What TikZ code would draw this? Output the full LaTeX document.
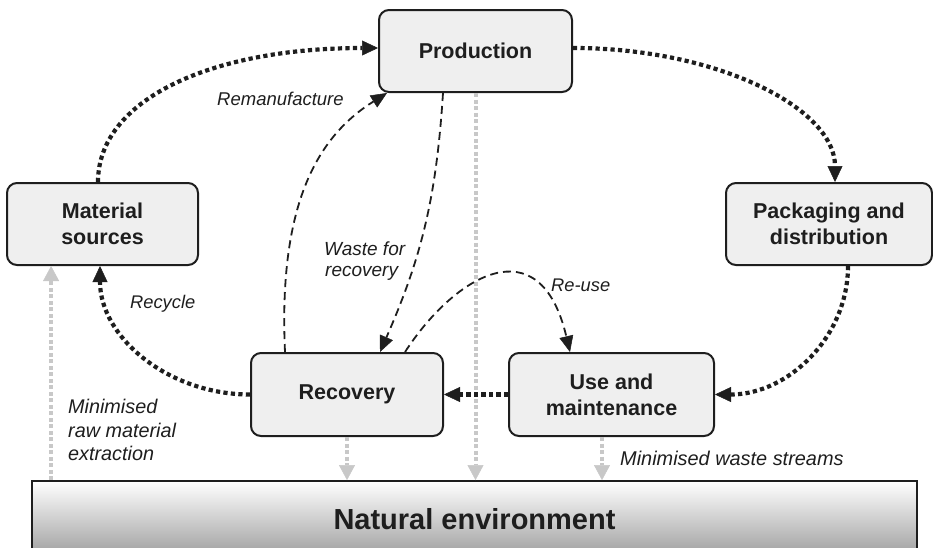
\documentclass[tikz,border=0pt]{standalone}
\usepackage{fontspec}
\setmainfont{Liberation Sans}
\usetikzlibrary{arrows.meta,calc}
\definecolor{boxfill}{HTML}{EFEFEF}
\definecolor{ink}{HTML}{1E1E1E}
\definecolor{mist}{HTML}{C8C8C8}
\begin{document}
\begin{tikzpicture}[x=1pt,y=-1pt,
  stagebox/.style={draw=ink, line width=2pt, fill=boxfill, rounded corners=10pt,
    align=center, inner sep=0pt, text=ink, font=\bfseries\fontsize{21.5}{26}\selectfont},
  dotflow/.style={draw=ink, line width=4.2pt, dash pattern=on 4.2pt off 3.3pt,
    -{Triangle[length=16pt,width=15pt,line width=0.5pt]}},
  dashflow/.style={draw=ink, line width=1.8pt, dash pattern=on 8pt off 5pt,
    -{Triangle[length=16pt,width=14pt,line width=0.5pt]}},
  grayflow/.style={draw=mist, line width=4pt, dash pattern=on 4pt off 2.5pt,
    -{Triangle[length=15pt,width=16pt,line width=0.5pt]}},
  flowlabel/.style={inner sep=0pt, text=ink, anchor=base west},
]
\useasboundingbox (0,0) rectangle (933,547);
\clip (0,0) rectangle (933,547);

% ground: the natural environment
\node[draw=ink, line width=1.8pt, top color=white, bottom color=black!38,
      minimum width=885pt, minimum height=76pt, inner sep=0pt, text=ink,
      font=\bfseries\fontsize{29}{34}\selectfont] (env) at (474.5,519) {Natural environment};

% life-cycle stages
\node[stagebox, minimum width=193pt, minimum height=82pt] (prod) at (475.5,51) {Production};
\node[stagebox, minimum width=191pt, minimum height=82pt] (mat) at (102.5,224) {Material\\sources};
\node[stagebox, minimum width=206pt, minimum height=82pt] (pack) at (829,224) {Packaging and\\distribution};
\node[stagebox, minimum width=192pt, minimum height=83pt] (rec) at (347,394.5) {Recovery};
\node[stagebox, minimum width=205pt, minimum height=83pt] (use) at (611.5,394.5) {Use and\\maintenance};

% exchanges with the environment
\coordinate (rawfoot) at ([xshift=20pt]env.north west);
\coordinate (recfoot) at (rec.south);
\coordinate (prodfoot) at (prod.south);
\coordinate (usefoot) at ([xshift=-9.5pt]use.south);
\draw[grayflow] (rawfoot) -- (rawfoot |- mat.south);
\draw[grayflow] (recfoot) -- (recfoot |- env.north);
\draw[grayflow] (prodfoot) -- (prodfoot |- env.north);
\draw[grayflow] (usefoot) -- (usefoot |- env.north);

% recovery loops
\draw[dashflow] ([xshift=-62pt]rec.north) .. controls (278,200) and (320,135) .. ([xshift=9pt]prod.south west);
\draw[dashflow] ([xshift=-32.5pt]prod.south) to[bend left=10] ([xshift=33pt]rec.north);
\draw[dashflow] ([xshift=58pt]rec.north) .. controls (455,275) and (540,225) .. ([xshift=-41.5pt]use.north);

% main cycle
\draw[dotflow] ([xshift=-4.5pt]mat.north) .. controls (98,100) and (210,48) .. ([yshift=3pt]prod.west);
\draw[dotflow] ([yshift=3pt]prod.east) .. controls (717,48) and (835,108) .. ([xshift=6pt]pack.north);
\draw[dotflow] ([xshift=19pt]pack.south) .. controls (848,337) and (788,394.5) .. (use.east);
\draw[dotflow] (use.west) -- (rec.east);
\draw[dotflow] (rec.west) .. controls (168,394.5) and (100,337) .. ([xshift=-2.5pt]mat.south);

% flow labels
\begin{scope}[every node/.append style={font=\itshape\fontsize{19}{22}\selectfont}]
\node[flowlabel, font=\itshape\fontsize{18.5}{22}\selectfont] (lremanu) at (217,105) {Remanufacture};
\node[flowlabel] (lwaste1) at (324,255) {Waste for};
\node[flowlabel] (lwaste2) at (325,276.5) {recovery};
\node[flowlabel, font=\itshape\fontsize{18.3}{22}\selectfont] (lrecycle) at (130,308) {Recycle};
\node[flowlabel, font=\itshape\fontsize{18.3}{22}\selectfont] (lreuse) at (551,291) {Re-use};
\node[flowlabel, font=\itshape\fontsize{19.8}{22}\selectfont] (lraw1) at (68,413) {Minimised};
\node[flowlabel, font=\itshape\fontsize{19.8}{22}\selectfont] (lraw2) at (68,437) {raw material};
\node[flowlabel, font=\itshape\fontsize{19.8}{22}\selectfont] (lraw3) at (68,460) {extraction};
\node[flowlabel, font=\itshape\fontsize{19.9}{22}\selectfont] (lstreams) at (620,465) {Minimised waste streams};
\end{scope}
\end{tikzpicture}
\end{document}
